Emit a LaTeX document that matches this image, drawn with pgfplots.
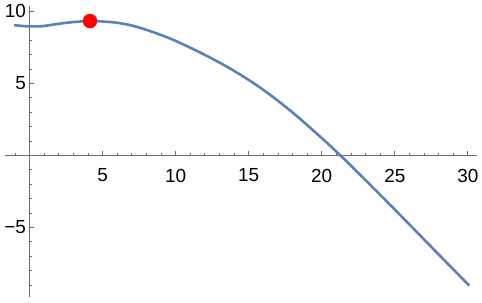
\documentclass[border=0pt]{standalone}
\usepackage{pgfplots}
\pgfplotsset{compat=1.18}
\usepackage{fontspec}
\setmainfont{Liberation Sans}
\definecolor{mblue}{RGB}{94,129,181}
\definecolor{axgray}{RGB}{110,110,110}
\begin{document}
\begin{tikzpicture}
\useasboundingbox (0,0) rectangle (482bp,303bp);
\begin{axis}[
  at={(5bp,6bp)}, anchor=south west,
  scale only axis, width=471.6bp, height=290.9bp,
  xmin=-1.68, xmax=30.6, ymin=-9.84, ymax=10.37,
  axis lines=middle,
  axis line style={axgray, line width=0.8bp, -},
  xtick={5,10,15,20,25,30},
  xticklabels={5,10,15,20,25,30},
  ytick={-5,5,10},
  yticklabels={−5,5,10},
  minor xtick={-1,1,2,3,4,6,7,8,9,11,12,13,14,16,17,18,19,21,22,23,24,26,27,28,29},
  minor ytick={-9,-8,-7,-6,-4,-3,-2,-1,1,2,3,4,6,7,8,9},
  tick style={axgray, line width=0.8bp},
  major tick length=4bp, minor tick length=2.3bp,
  tick align=inside,
  ticklabel style={font=\fontsize{19}{19}\selectfont, text=black},
  xticklabel style={yshift=-10bp},
  clip=false,
]
\addplot[mblue, line width=2.6bp, smooth, tension=0.6] coordinates {
(-1.06,9.05) (-0.5,8.99) (0,8.96) (0.5,8.96) (1,8.99) (2,9.14) (3,9.26)
(4.14,9.33) (5,9.30) (6,9.21) (7,9.02) (8,8.72) (9,8.36) (10,7.95)
(12,6.98) (14,5.87) (16,4.55) (18,2.98) (20,1.20) (21.27,0)
(22,-0.72) (24,-2.74) (26,-4.80) (28,-6.88) (30.1,-9.05)
};
\addplot[only marks, mark=*, mark size=7bp, mark options={draw=red, fill=red}] coordinates {(4.14,9.33)};
\end{axis}
\end{tikzpicture}
\end{document}
